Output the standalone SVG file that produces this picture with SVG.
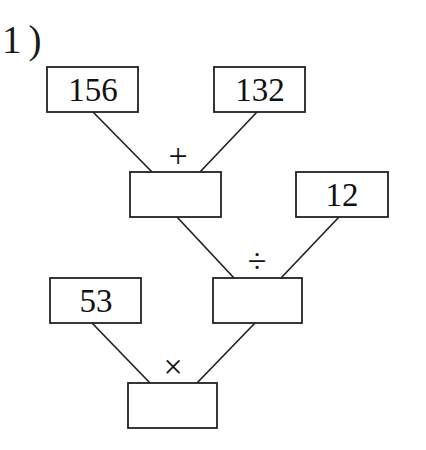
<svg xmlns="http://www.w3.org/2000/svg" width="426" height="450" viewBox="0 0 426 450">
<style>
rect{fill:#fff;stroke:#222;stroke-width:1.8}
line{stroke:#222;stroke-width:1.7}
.n{font-family:"Liberation Serif",serif;font-size:33px;fill:#111;text-anchor:middle}
.op{font-family:"Liberation Serif",serif;font-size:34px;fill:#111;text-anchor:middle}
.t{font-family:"Liberation Serif",serif;font-size:39px;fill:#1a1a1a}
</style>
<rect width="426" height="450" style="fill:#fff;stroke:none"/>
<text class="t" x="2" y="53" letter-spacing="7">1)</text>
<g id="connectors">
<line x1="93" y1="112" x2="152" y2="172"/>
<line x1="257" y1="112" x2="200" y2="172"/>
<line x1="177" y1="217" x2="234" y2="278"/>
<line x1="339" y1="217" x2="281" y2="278"/>
<line x1="92" y1="323" x2="150" y2="383"/>
<line x1="255" y1="323" x2="197" y2="383"/>
</g>
<g id="n156"><rect x="47" y="67" width="91" height="45"/><text class="n" x="93" y="101">156</text></g>
<g id="n132"><rect x="214" y="67" width="91" height="45"/><text class="n" x="260" y="101">132</text></g>
<g id="sum"><rect x="130" y="172" width="91" height="45"/><text class="op" x="178" y="167">+</text></g>
<g id="n12"><rect x="296" y="172" width="92" height="45"/><text class="n" x="342" y="206">12</text></g>
<g id="quot"><rect x="213" y="278" width="89" height="45"/><text class="op" x="257" y="272">÷</text></g>
<g id="n53"><rect x="50" y="278" width="91" height="45"/><text class="n" x="96" y="312">53</text></g>
<g id="prod"><rect x="128" y="383" width="89" height="45"/><text class="op" x="173" y="378">×</text></g>
</svg>
